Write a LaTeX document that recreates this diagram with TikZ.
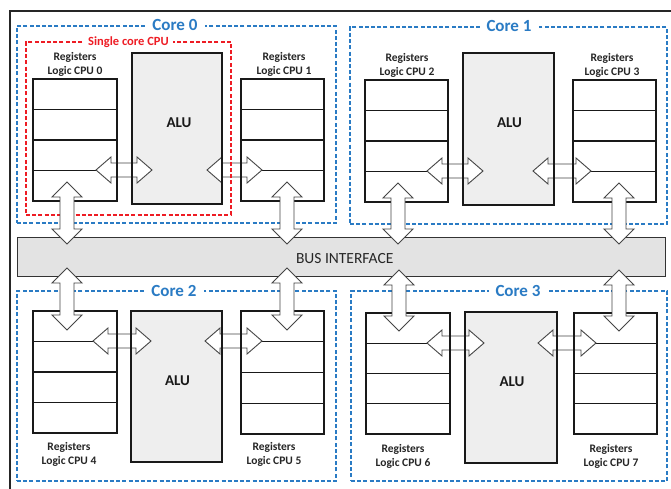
\documentclass[tikz,border=0pt]{standalone}
\usepackage{fontspec}
\setmainfont{Carlito}
\usetikzlibrary{calc}

\definecolor{coreblue}{HTML}{2A7BC4}
\definecolor{cpured}{HTML}{EE1C24}
\definecolor{alufill}{HTML}{EEEEEE}
\definecolor{busfill}{HTML}{E3E3E3}
\definecolor{arrowline}{HTML}{454545}

% horizontal double arrow between two tips
\newcommand{\dblH}[2]{%
  \draw[bigarrow] (#1) -- ++(15,13) -- ++(0,-6) -- ($(#2)+(-15,7)$) -- ++(0,6)
    -- (#2) -- ++(-15,-13) -- ++(0,6) -- ($(#1)+(15,-7)$) -- ++(0,-6) -- cycle;}
% vertical double arrow between two tips (first one on top)
\newcommand{\dblV}[2]{%
  \draw[bigarrow] (#1) -- ++(15,15) -- ++(-8,0) -- ($(#2)+(7,-15)$) -- ++(8,0)
    -- (#2) -- ++(-15,-15) -- ++(8,0) -- ($(#1)+(-7,15)$) -- ++(-8,0) -- cycle;}
% register bank: name, x, y, width, height (fill and dividers)
\newcommand{\regbank}[5]{%
  \node[regfill, minimum width=#4pt, minimum height=#5pt] (#1) at (#2,#3) {};
  \foreach \f in {0.25,0.5,0.75}
    \draw[regline] ($(#1.north west)!\f!(#1.south west)$) -- ($(#1.north east)!\f!(#1.south east)$);}

\tikzset{
  regfill/.style={rectangle, fill=white, draw=none, inner sep=0pt, outer sep=0pt, anchor=north west},
  alubox/.style={rectangle, fill=alufill, draw=none, inner sep=0pt, outer sep=0pt, anchor=north west},
  regline/.style={line width=1.4pt, draw=black!90},
  corebox/.style={rectangle, draw=coreblue, line width=1.1pt, dash pattern=on 4pt off 2.2pt,
    inner sep=0pt, outer sep=0pt, anchor=north west},
  cpubox/.style={rectangle, draw=cpured, line width=1.3pt, dash pattern=on 4pt off 2.2pt,
    inner sep=0pt, outer sep=0pt, anchor=north west},
  coretitle/.style={fill=white, text=coreblue, font=\bfseries\fontsize{17}{19}\selectfont,
    inner xsep=7pt, inner ysep=0pt},
  cputitle/.style={fill=white, text=cpured, font=\bfseries\fontsize{12.5}{14}\selectfont,
    inner xsep=4pt, inner ysep=0pt},
  reglabel/.style={align=center, font=\bfseries\fontsize{11.5}{14}\selectfont, inner sep=0pt, text=black!85},
  alulabel/.style={font=\bfseries\fontsize{15}{17}\selectfont, inner sep=0pt, text=black!90},
  busbox/.style={rectangle, fill=busfill, draw=black!80, line width=1.4pt, anchor=north west,
    inner sep=0pt},
  bigarrow/.style={fill=white, draw=arrowline, line width=0.9pt, line join=miter},
}

\begin{document}
\begin{tikzpicture}[x=1pt,y=-1pt]
\fill[white] (0,0) rectangle (671,489);
\useasboundingbox (0,0) rectangle (671,489);

% outer frame
\draw[line width=1.3pt, black!85] (10,489) -- (10,11) -- (671,11);

% core outlines
\node[corebox, minimum width=319pt, minimum height=197pt] (c0) at (17,26) {};
\node[corebox, minimum width=317pt, minimum height=197pt] (c1) at (350,27) {};
\node[corebox, minimum width=319pt, minimum height=190pt] (c2) at (17,291) {};
\node[corebox, minimum width=316pt, minimum height=190pt] (c3) at (351,291) {};
\node[coretitle] (t0) at (175,25) {Core 0};
\node[coretitle] (t1) at (509,26) {Core 1};
\node[coretitle] (t2) at (174,291) {Core 2};
\node[coretitle] (t3) at (518,291) {Core 3};

% register banks
\regbank{r0}{33}{79}{84}{122}
\regbank{r1}{241}{79}{83}{122}
\regbank{r2}{365}{80}{83}{122}
\regbank{r3}{573}{80}{83}{122}
\regbank{r4}{33}{311}{84}{122}
\regbank{r5}{241}{311}{83}{123}
\regbank{r6}{366}{313}{84}{121}
\regbank{r7}{574}{313}{83}{121}

% ALUs
\node[alubox, minimum width=90pt, minimum height=151pt] (a0) at (132,53) {};
\node[alubox, minimum width=91pt, minimum height=152pt] (a1) at (463,53) {};
\node[alubox, minimum width=91pt, minimum height=151pt] (a2) at (131,311) {};
\node[alubox, minimum width=92pt, minimum height=151pt] (a3) at (465,312) {};
\node[alulabel] (a0t) at ($(a0.center)+(2,-6)$) {ALU};
\node[alulabel] (a1t) at ($(a1.center)+(1,-6)$) {ALU};
\node[alulabel] (a2t) at ($(a2.center)+(1,-6)$) {ALU};
\node[alulabel] (a3t) at ($(a3.center)+(1,-6)$) {ALU};

% register <-> ALU links
\coordinate (h0a) at (96,170);  \coordinate (h0b) at (152,170);
\coordinate (h1a) at (207,170); \coordinate (h1b) at (262,170);
\coordinate (h2a) at (427,171); \coordinate (h2b) at (483,171);
\coordinate (h3a) at (533,171); \coordinate (h3b) at (591,171);
\coordinate (h4a) at (93,341);  \coordinate (h4b) at (151,341);
\coordinate (h5a) at (205,341); \coordinate (h5b) at (262,341);
\coordinate (h6a) at (427,343); \coordinate (h6b) at (484,343);
\coordinate (h7a) at (538,343); \coordinate (h7b) at (596,343);
\foreach \i in {0,...,7} {\dblH{h\i a}{h\i b}}

% box borders above the links
\foreach \n in {r0,r1,r2,r3,r4,r5,r6,r7,a0,a1,a2,a3}
  \draw[regline] (\n.north west) rectangle (\n.south east);

% single core CPU outline
\node[cpubox, minimum width=205pt, minimum height=173pt] (cpu) at (26,42) {};
\node[cputitle] (cput) at (cpu.north) {Single core CPU};

% register labels
\node[reglabel] (l0) at (75,64)    {Registers\\Logic CPU 0};
\node[reglabel] (l1) at (284,64)   {Registers\\Logic CPU 1};
\node[reglabel] (l2) at (407,65)   {Registers\\Logic CPU 2};
\node[reglabel] (l3) at (612,65)   {Registers\\Logic CPU 3};
\node[reglabel] (l4) at (69,454.5) {Registers\\Logic CPU 4};
\node[reglabel] (l5) at (274,454.5){Registers\\Logic CPU 5};
\node[reglabel] (l6) at (403,456)  {Registers\\Logic CPU 6};
\node[reglabel] (l7) at (611,456)  {Registers\\Logic CPU 7};

% bus
\node[busbox, minimum width=648pt, minimum height=39pt] (bus) at (17,237) {};
\node[font=\fontsize{15.5}{18}\selectfont, text=black!85, inner sep=0pt] (bust) at ($(bus.center)+(3,1.5)$) {BUS INTERFACE};

% register <-> bus links
\coordinate (v0a) at (67,182);  \coordinate (v0b) at (67,244);
\coordinate (v1a) at (287,182); \coordinate (v1b) at (287,244);
\coordinate (v2a) at (398,183); \coordinate (v2b) at (398,244);
\coordinate (v3a) at (619,183); \coordinate (v3b) at (619,244);
\coordinate (v4a) at (67,268);  \coordinate (v4b) at (67,330);
\coordinate (v5a) at (287,268); \coordinate (v5b) at (287,330);
\coordinate (v6a) at (399,270); \coordinate (v6b) at (399,331);
\coordinate (v7a) at (619,270); \coordinate (v7b) at (619,331);
\foreach \i in {0,...,7} {\dblV{v\i a}{v\i b}}
\end{tikzpicture}
\end{document}
